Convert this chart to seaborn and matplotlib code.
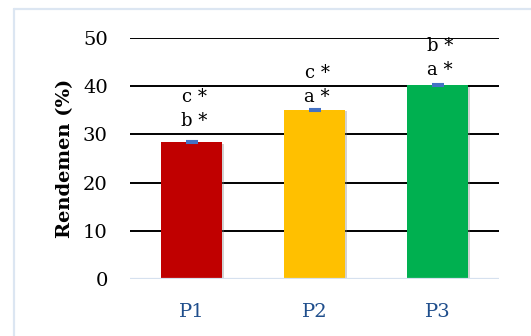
import matplotlib
matplotlib.use("Agg")
import matplotlib.pyplot as plt
import matplotlib.patheffects as pe
from matplotlib.lines import Line2D
import seaborn as sns
import pandas as pd

# Yield per treatment
treatments = ["P1", "P2", "P3"]
rendemen = [28.4, 35.1, 40.2]
std_err = [0.2, 0.2, 0.2]
bar_colors = ["#C00000", "#FFC000", "#00B050"]
# Significance letters (lower line, upper line)
letters_low = ["b *", "a *", "a *"]
letters_high = ["c *", "c *", "b *"]

sns.set_theme(style="white")
plt.rcParams["font.family"] = ["DejaVu Serif"]

fig = plt.figure(figsize=(5.31, 3.36), dpi=100)
ax = fig.add_axes([130 / 531, 1 - 279 / 336, 369 / 531, 241 / 336])

df = pd.DataFrame({"Perlakuan": treatments, "Rendemen": rendemen})
sns.barplot(data=df, x="Perlakuan", y="Rendemen", hue="Perlakuan",
            palette=bar_colors, width=0.5, errorbar=None, legend=False,
            ax=ax, zorder=3, saturation=1)

for patch in ax.patches:
    patch.set_edgecolor("none")
    patch.set_path_effects([pe.SimplePatchShadow(offset=(1.2, -1.2), shadow_rgbFace="#7f7f7f",
                                                 alpha=0.35), pe.Normal()])

ax.errorbar(range(len(treatments)), rendemen, yerr=std_err, fmt="none",
            ecolor="#4472C4", elinewidth=1.5, capsize=4.5, capthick=1.5, zorder=4)

# Letter annotations above each bar (offsets in pixels)
low_offsets = [21, 13, 15]
line_gap = 24
for i, (v, lo, hi) in enumerate(zip(rendemen, letters_low, letters_high)):
    ax.annotate(lo, (i, v), xytext=(2, low_offsets[i] * 0.72), textcoords="offset points",
                ha="center", va="center", fontsize=13, color="black")
    ax.annotate(hi, (i, v), xytext=(2, (low_offsets[i] + line_gap) * 0.72), textcoords="offset points",
                ha="center", va="center", fontsize=13, color="black")

ax.set_ylim(0, 50)
ax.set_xlim(-0.5, 2.5)
ax.set_yticks([0, 10, 20, 30, 40, 50])
ax.grid(False)
for y in [10, 20, 30, 40, 50]:
    ax.axhline(y, color="black", lw=1.4, zorder=1)
ax.axhline(0, color="#D6E1EF", lw=1.6, zorder=5)

for s in ax.spines.values():
    s.set_visible(False)

ax.tick_params(axis="y", length=0, labelsize=14, pad=16, labelcolor="black")
ax.tick_params(axis="x", length=0, labelsize=14, pad=17, labelcolor="#1F4E8C")
ax.set_xlabel("")
ax.set_ylabel("Rendemen (%)", fontsize=14, fontweight="bold", labelpad=6, color="black")

# Light blue chart frame
frame_color = "#DCE6F2"
fig.add_artist(Line2D([14 / 531, 14 / 531], [0, 1 - 9 / 336], transform=fig.transFigure,
                      color=frame_color, lw=1.6))
fig.add_artist(Line2D([14 / 531, 1], [1 - 9 / 336, 1 - 9 / 336], transform=fig.transFigure,
                      color=frame_color, lw=1.6))

fig.savefig("out.png", dpi=100, facecolor="white")
